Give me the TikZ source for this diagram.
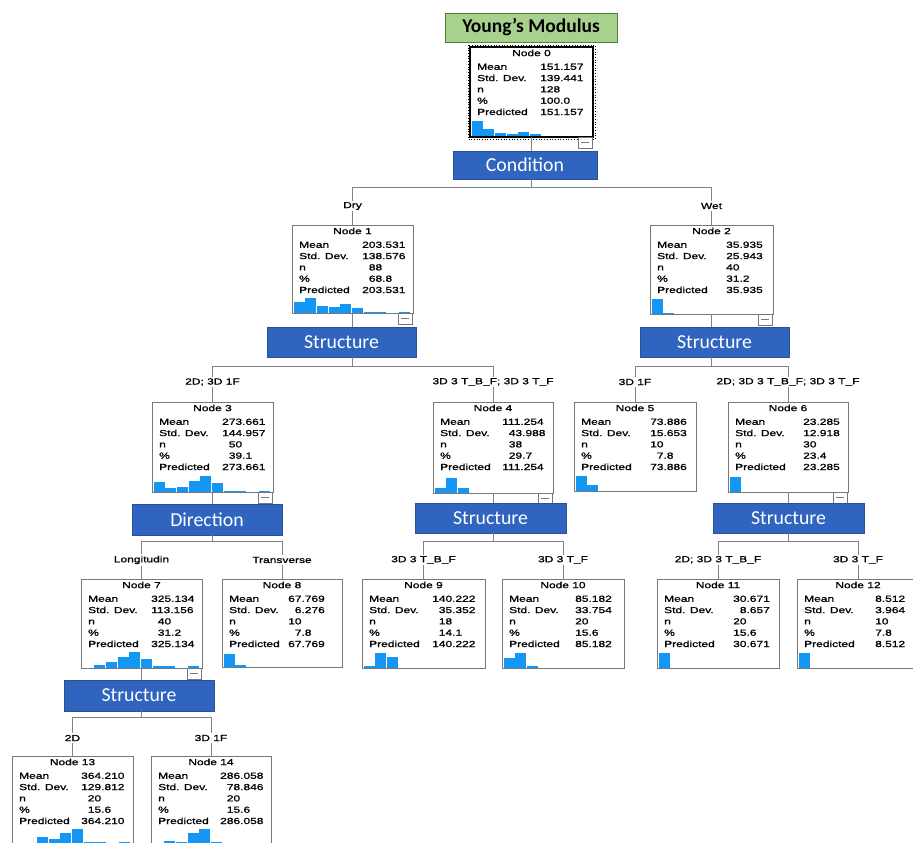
\documentclass[tikz,border=0pt]{standalone}
\usepackage{fontspec}
\setmainfont{Liberation Sans}
\newfontfamily\spssfont[FakeStretch=1.36,FakeBold=1.2]{Liberation Sans}
\newfontfamily\califont{Carlito}
\definecolor{splitblue}{RGB}{47,101,191}
\definecolor{splitedge}{RGB}{40,82,150}
\definecolor{greenfill}{RGB}{169,209,142}
\definecolor{greenedge}{RGB}{84,130,53}
\definecolor{boxgray}{RGB}{120,120,120}
\definecolor{linegray}{RGB}{130,130,130}
\definecolor{histc}{RGB}{20,150,245}

\newcommand\tnode[8]{%
  \node[tbox, minimum width={(#4-#2)*1pt}, minimum height={(#5-#3)*1pt}] (#1) at ({(#2+#4)/2},{(#3+#5)/2}) {};
  \node[ttxt] (#1t) at ({(#2+#4)/2},{#3+6}) {Node #7};
  \foreach \lab [count=\i from 0] in {Mean,Std. Dev.,n,\%,Predicted}
    \node[ttxt,anchor=base west] (#1l\i) at ({#2+7},{#3+22.8+11.3*\i}) {\lab};
  \foreach \v [count=\i from 0] in {#8}
    \node[ttxt,anchor=base west] (#1v\i) at ({#2+#6},{#3+22.8+11.3*\i}) {\v};
}
\newcommand\hist[3]{%
  \foreach \h [count=\i from 0] in {#3}
    \fill[histc] ({#1+1.5+11.7*\i},#2) rectangle ++(11,{-\h});
}
\newcommand\minusbox[3]{%
  \node[mbox] (#1) at ({#2-8},{#3+5.5}) {};
  \draw[boxgray, line width=0.8pt] ([xshift=-4pt]#1.center) -- ([xshift=4pt]#1.center);
}
\newcommand\splitnode[6]{%
  \node[splitbox, minimum width={(#4-#2)*1pt}, minimum height={(#5-#3)*1pt}] (#1) at ({(#2+#4)/2},{(#3+#5)/2}) {#6};
}

\begin{document}
\begin{tikzpicture}[x=1pt,y=-1pt,
  tbox/.style={draw=boxgray, line width=0.9pt, fill=white, inner sep=0pt, outer sep=0pt, rectangle},
  ttxt/.style={font=\spssfont\fontsize{8.8}{10}\selectfont, inner sep=0pt, text=black},
  splitbox/.style={draw=splitedge, line width=0.8pt, fill=splitblue, text=white, font=\califont\fontsize{19.8}{21}\selectfont, inner sep=0pt, outer sep=0pt, rectangle},
  lab/.style={font=\spssfont\fontsize{8.8}{10}\selectfont, text=black, fill=white, inner sep=1.5pt},
  conn/.style={draw=linegray, line width=1pt},
  mbox/.style={draw=boxgray, line width=0.7pt, fill=white, minimum width=14pt, minimum height=11pt, inner sep=0pt, outer sep=0pt, rectangle}
]
\useasboundingbox (0,0) rectangle (913,843);
\fill[white] (0,0) rectangle (913,843);

% title
\node[draw=greenedge, line width=0.8pt, fill=greenfill, minimum width=172pt, minimum height=29pt, inner sep=0pt,
      font=\califont\bfseries\fontsize{19.5}{21}\selectfont] (title) at (531,27.5) {Young’s Modulus};

% bus coordinates
\coordinate (b0) at (531.5,187);
\coordinate (b1) at (352.5,366);
\coordinate (b2) at (711.5,366);
\coordinate (b3) at (212.5,541);
\coordinate (b4) at (493,541);
\coordinate (b6) at (788,541);
\coordinate (b7) at (141.5,717);

% tree boxes
\tnode{n0}{470}{47}{593}{137}{70}{0}{151.157,139.441,128,100.0,151.157}
\draw[black, line width=1.4pt] (n0.north west) rectangle (n0.south east);
\draw[black, dotted, line width=0.7pt] ([shift={(-2,-2)}]n0.north west) rectangle ([shift={(2,2)}]n0.south east);
\hist{470}{136}{15,7.5,2.7,1.7,4,2}

\tnode{n1}{292}{225}{413}{313}{70}{1}{203.531,138.576,\phantom{0}88,\phantom{0}68.8,203.531}
\hist{292}{312.5}{10.3,15,7,5.3,8.3,5,0.7,0.7,0,0.7}
\tnode{n2}{650}{225}{773}{314}{76}{2}{35.935,25.943,40,31.2,35.935}
\hist{650}{313.5}{14.7,0.7}
\tnode{n3}{152}{402}{273}{492}{70}{3}{273.661,144.957,\phantom{0}50,\phantom{0}39.1,273.661}
\hist{152}{491.5}{10,3.3,5,10.7,15.7,8.3,0.7,0.7,0,0.7}
\tnode{n4}{433}{402}{553}{493}{69}{4}{111.254,\phantom{0}43.988,\phantom{0}38,\phantom{0}29.7,111.254}
\hist{433}{492.5}{4.3,14.3,4.3}
\tnode{n5}{574}{402}{696}{491}{76}{5}{73.886,15.653,10,\phantom{0}7.8,73.886}
\hist{574}{490.5}{15,6}
\tnode{n6}{728}{402}{848}{492}{75}{6}{23.285,12.918,30,23.4,23.285}
\hist{728}{491.5}{15}
\tnode{n7}{81}{579}{202}{668}{70}{7}{325.134,113.156,\phantom{0}40,\phantom{0}31.2,325.134}
\hist{81}{667.5}{0,3,5.7,10.7,15.7,9,2,2,0,2}
\tnode{n8}{222}{579}{342}{667}{66}{8}{67.769,\phantom{0}6.276,10,\phantom{0}7.8,67.769}
\hist{222}{666.5}{13,1.5}
\tnode{n9}{362}{579}{485}{668}{70}{9}{140.222,\phantom{0}35.352,\phantom{0}18,\phantom{0}14.1,140.222}
\hist{362}{667.5}{1.7,15,10.7}
\tnode{n10}{502}{579}{624}{668}{73}{10}{85.182,33.754,20,15.6,85.182}
\hist{502}{667.5}{9.3,15,1.3}
\tnode{n11}{657}{579}{779}{668}{76}{11}{30.671,\phantom{0}8.657,20,15.6,30.671}
\hist{657}{667.5}{15}
\tnode{n12}{797}{579}{919}{668}{78}{12}{8.512,3.964,10,7.8,8.512}
\hist{797}{667.5}{15}
\tnode{n13}{12}{756}{133}{850}{69}{13}{364.210,129.812,\phantom{0}20,\phantom{0}15.6,364.210}
\hist{12}{845}{0,0,8,6,12,16,3,3,0,3}
\tnode{n14}{151}{756}{271}{850}{69}{14}{286.058,\phantom{0}78.846,\phantom{0}20,\phantom{0}15.6,286.058}
\hist{151}{845}{0,4,3,12.3,16,3}

% minus boxes
\minusbox{m0}{593}{137}
\minusbox{m1}{413}{313}
\minusbox{m2}{773}{314}
\minusbox{m3}{273}{492}
\minusbox{m4}{553}{493}
\minusbox{m6}{848}{492}
\minusbox{m7}{202}{668}

% split boxes
\splitnode{c0}{453}{151}{597}{179}{Condition}
\splitnode{s1}{267}{327}{416}{357}{Structure}
\splitnode{s2}{640}{327}{789}{357}{Structure}
\splitnode{d3}{132}{504}{282}{535}{Direction}
\splitnode{s4}{415}{503}{566}{533}{Structure}
\splitnode{s6}{713}{503}{864}{533}{Structure}
\splitnode{s7}{64}{680}{214}{711}{Structure}

% connectors
\draw[conn] (n0.south) -- (n0.south |- c0.north);
\draw[conn] (c0.south -| b0) -- (b0);
\draw[conn] (b0) -| (n1.north);
\draw[conn] (b0) -| (n2.north);

\draw[conn] (n1.south) -- (n1.south |- s1.north);
\draw[conn] (s1.south -| b1) -- (b1);
\draw[conn] (b1) -| (n3.north);
\draw[conn] (b1) -| (n4.north);

\draw[conn] (n2.south) -- (n2.south |- s2.north);
\draw[conn] (s2.south -| b2) -- (b2);
\draw[conn] (b2) -| (n5.north);
\draw[conn] (b2) -| (n6.north);

\draw[conn] (n3.south) -- (n3.south |- d3.north);
\draw[conn] (d3.south -| b3) -- (b3);
\draw[conn] (b3) -| (n7.north);
\draw[conn] (b3) -| (n8.north);

\draw[conn] (n4.south) -- (n4.south |- s4.north);
\draw[conn] (s4.south -| b4) -- (b4);
\draw[conn] (b4) -| (n9.north);
\draw[conn] (b4) -| (n10.north);

\draw[conn] (n6.south) -- (n6.south |- s6.north);
\draw[conn] (s6.south -| b6) -- (b6);
\draw[conn] (b6) -| (n11.north);
\draw[conn] (b6) -| (n12.north);

\draw[conn] (n7.south) -- (n7.south |- s7.north);
\draw[conn] (s7.south -| b7) -- (b7);
\draw[conn] (b7) -| (n13.north);
\draw[conn] (b7) -| (n14.north);

% branch labels
\node[lab] (l1) at (n1.north |- 0,206) {Dry};
\node[lab] (l2) at (n2.north |- 0,206) {Wet};
\node[lab] (l3) at (n3.north |- 0,382) {2D; 3D 1F};
\node[lab] (l4) at (n4.north |- 0,382) {3D 3 T\_B\_F; 3D 3 T\_F};
\node[lab] (l5) at (n5.north |- 0,382) {3D 1F};
\node[lab] (l6) at (n6.north |- 0,382) {2D; 3D 3 T\_B\_F; 3D 3 T\_F};
\node[lab] (l7) at (n7.north |- 0,560) {Longitudin};
\node[lab] (l8) at (n8.north |- 0,560) {Transverse};
\node[lab] (l9) at (n9.north |- 0,560) {3D 3 T\_B\_F};
\node[lab] (l10) at (n10.north |- 0,560) {3D 3 T\_F};
\node[lab] (l11) at (n11.north |- 0,560) {2D; 3D 3 T\_B\_F};
\node[lab] (l12) at (n12.north |- 0,560) {3D 3 T\_F};
\node[lab] (l13) at (n13.north |- 0,738) {2D};
\node[lab] (l14) at (n14.north |- 0,738) {3D 1F};
\end{tikzpicture}
\end{document}
